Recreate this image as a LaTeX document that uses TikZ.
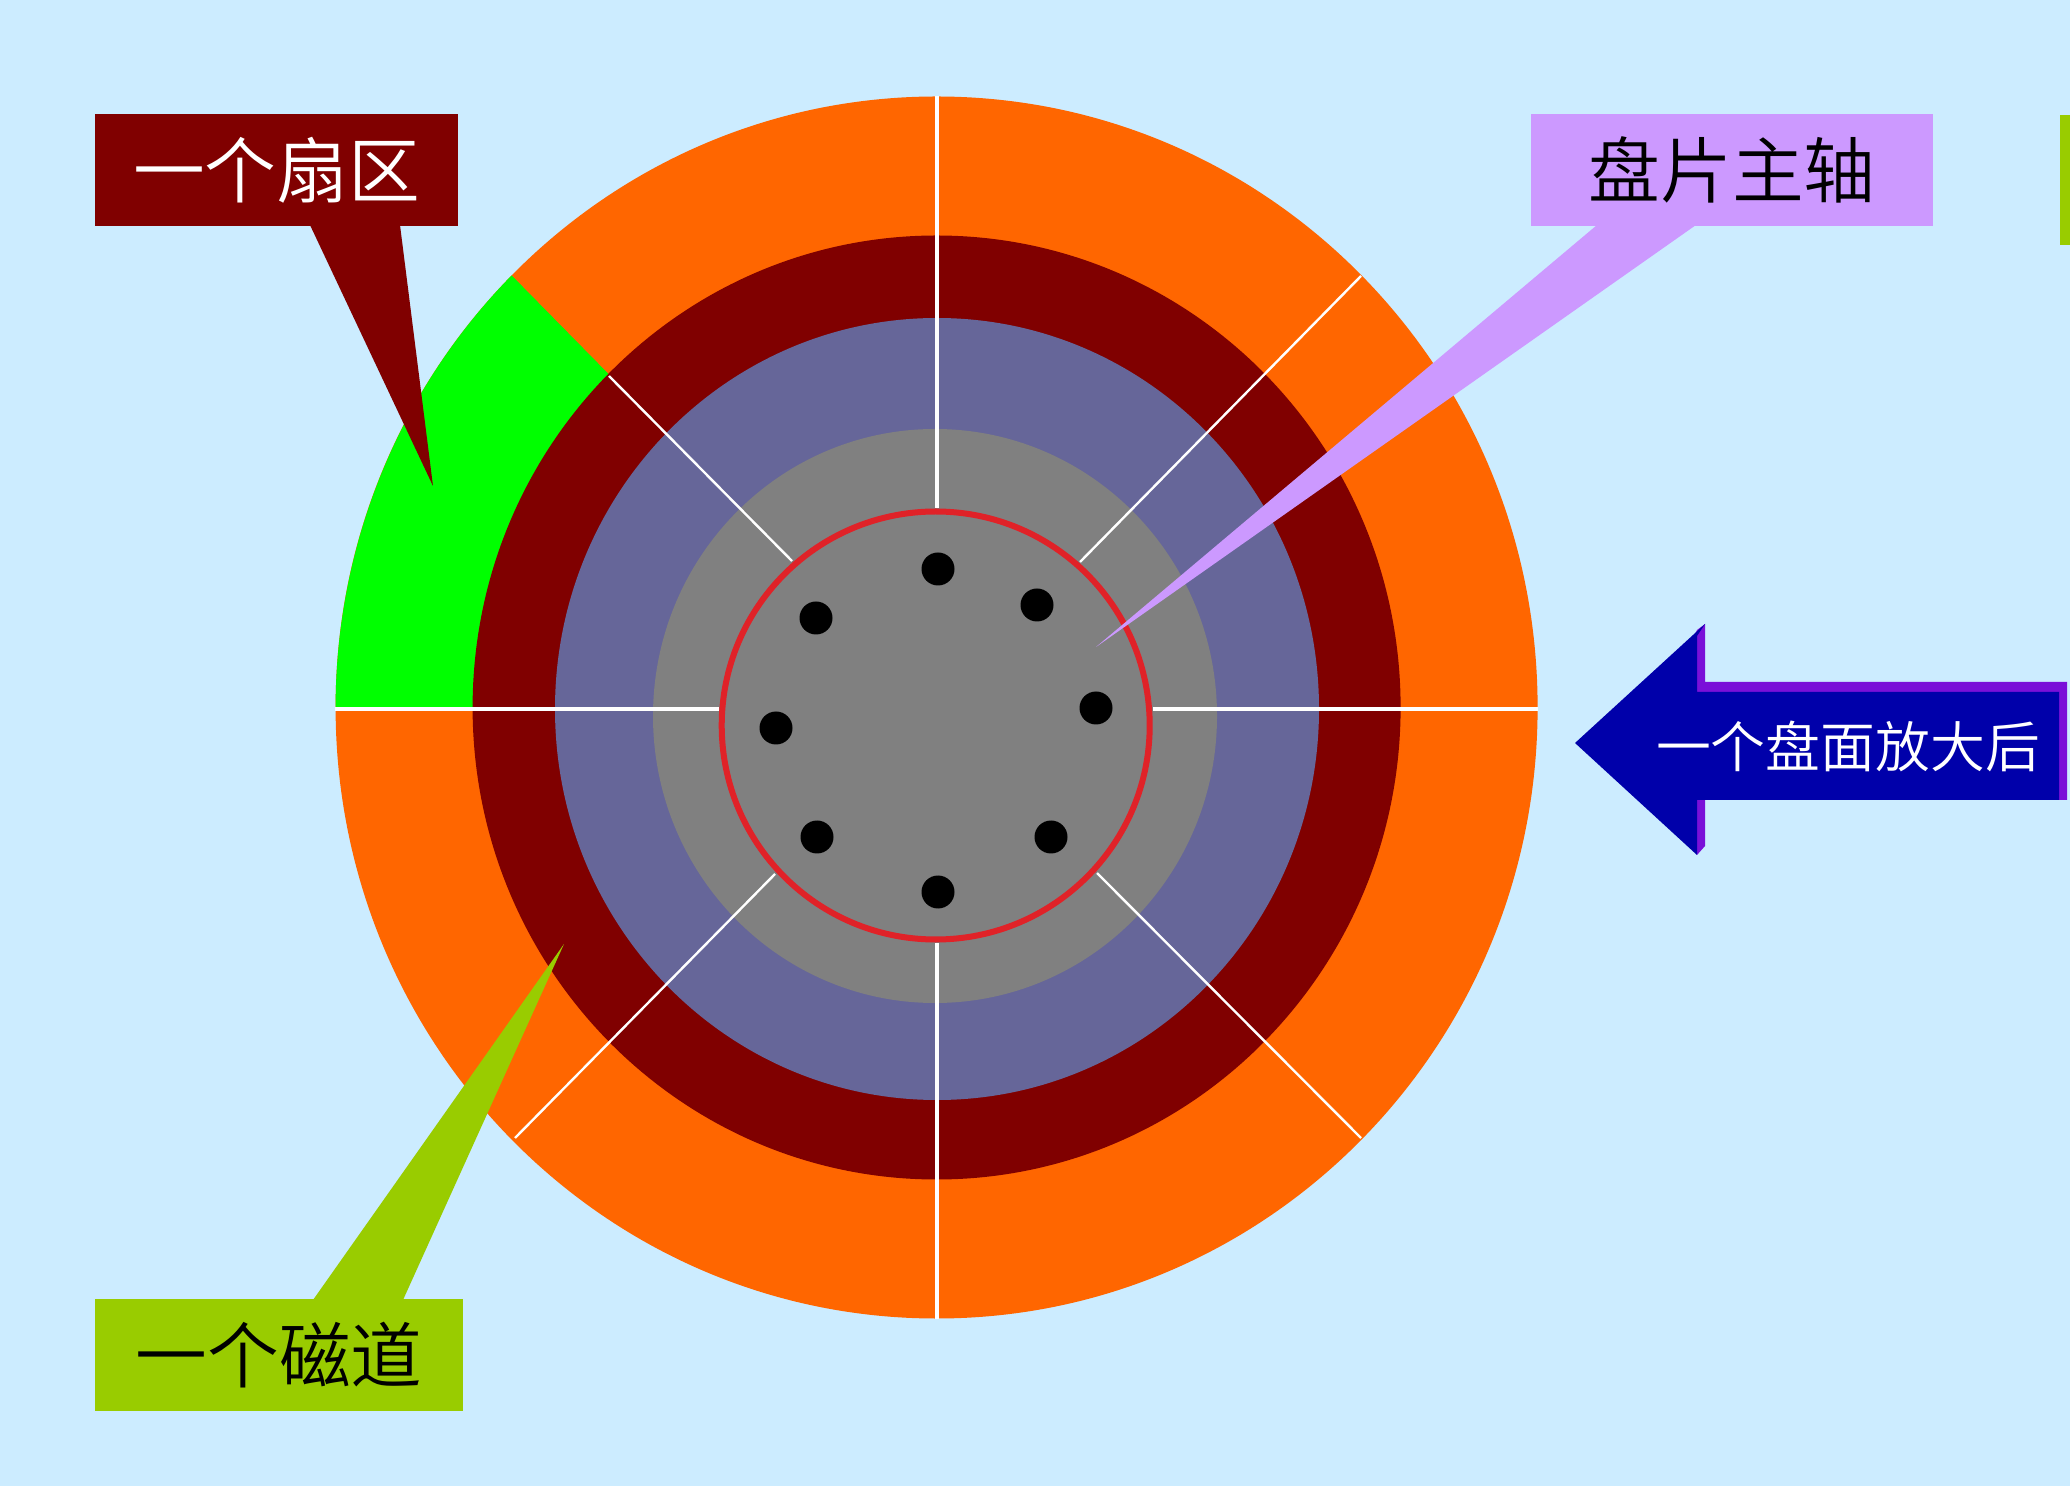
\documentclass[tikz,border=0pt]{standalone}
\usepackage{fontspec}
\setmainfont{Noto Sans CJK SC}[UprightFont=* DemiLight]
\definecolor{skyback}{HTML}{CCECFF}
\definecolor{trackorange}{HTML}{FF6600}
\definecolor{trackred}{HTML}{800000}
\definecolor{trackblue}{HTML}{666699}
\definecolor{hubgray}{HTML}{808080}
\definecolor{spindlered}{HTML}{E02228}
\definecolor{tagpurple}{HTML}{CC99FF}
\definecolor{taggreen}{HTML}{99CC00}
\definecolor{arrowblue}{HTML}{0000AA}
\definecolor{arrowedge}{HTML}{7A10D8}
\tikzset{
	tagbox/.style={minimum width=3.63cm, minimum height=1.12cm, inner sep=0pt, font=\fontsize{20.4}{24}\selectfont},
	radial/.style={white, line width=0.034cm},
	slant/.style={white, line width=0.024cm},
	hole/.style={fill=black}
}

\begin{document}
\begin{tikzpicture}[x=0.01cm, y=-0.01cm]
	\useasboundingbox (0,0) rectangle (2070,1486);
	\fill[skyback] (0,0) rectangle (2070,1486);
	% platter
	\coordinate (centre) at (936.6,707.5);
	\fill[trackorange] (centre) circle[x radius=601, y radius=611];
	\fill[green] (centre) -- ++(-601,0) arc[start angle=180, end angle=225, x radius=601, y radius=611] -- cycle;
	\fill[trackred] (centre) circle[x radius=464, y radius=472];
	\fill[trackblue] (937,709) circle[x radius=382, y radius=391];
	\fill[hubgray] (935,716) circle[x radius=282, y radius=287];
	\foreach \a/\b/\c/\d in {937/96/937/508, 937/943/937/1319, 335/709/719/709, 1153/709/1538/709} {\draw[radial] (\a,\b) -- (\c,\d);}
	\foreach \a/\b/\c/\d in {1080/562/1361/276, 609/376/792/561, 775/874/515/1138, 1097/873/1361/1138} {\draw[slant] (\a,\b) -- (\c,\d);}
	\draw[spindlered, line width=0.06cm] (935.7,725.5) circle[x radius=214, y radius=214];
	\foreach \x/\y in {938/569, 1037/605, 1096/708, 1051/837, 938/892, 817/837, 776/728, 816/618} {\fill[hole] (\x,\y) circle[radius=16.5];}
	% callouts
	\coordinate (sectortip) at (433,486);
	\coordinate (tracktip) at (564,944);
	\coordinate (spindletip) at (1096,647);
	\fill[trackred] (310,225) -- (sectortip) -- (400,225) -- cycle;
	\fill[taggreen] (313,1300) -- (tracktip) -- (403,1300) -- cycle;
	\fill[tagpurple] (1597,225) -- (spindletip) -- (1696,225) -- cycle;
	\node[tagbox, fill=trackred, text=white] (sectorbox) at (276.5,170) {一个扇区};
	\node[tagbox, fill=taggreen, minimum width=3.68cm] (trackbox) at (279,1355) {一个磁道};
	\node[tagbox, fill=tagpurple, minimum width=4.02cm] (spindlebox) at (1732,170) {盘片主轴};
	\fill[taggreen] (2060,115) rectangle (2070,245);
	% zoom arrow
	\fill[arrowedge] (1640,743) -- (1697,630) -- (1705,624) -- (1705,682) -- (2067,682) -- (2067,800) -- (1705,800) -- (1705,846) -- (1697,855) -- cycle;
	\fill[arrowblue] (1575,743) -- (1705,624) -- (1697,636) -- (1697,692) -- (2059,692) -- (2059,800) -- (1697,800) -- (1697,855) -- cycle;
	\node[text=white, inner sep=0pt, font=\fontsize{15.6}{18}\selectfont] (zoomlabel) at (1848,746) {一个盘面放大后};
\end{tikzpicture}
\end{document}
